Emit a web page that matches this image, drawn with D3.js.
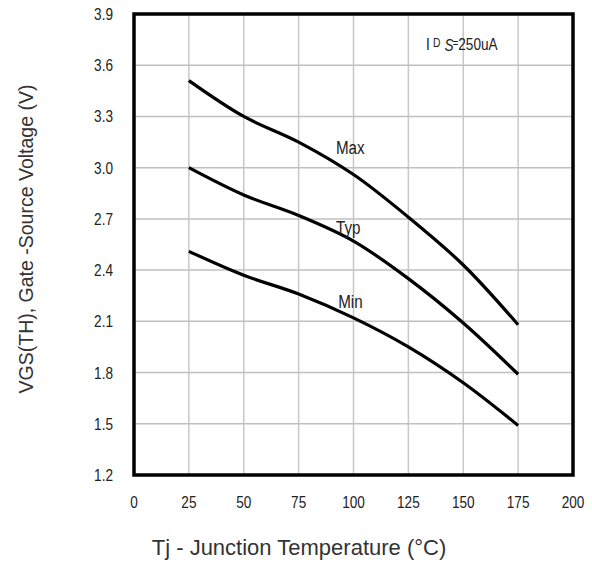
<!DOCTYPE html>
<html>
<head>
<meta charset="utf-8">
<script src="https://cdn.jsdelivr.net/npm/d3@7"></script>
<style>
  body { margin: 0; background: #fff; }
  svg text { fill: #222; }
</style>
</head>
<body>
<div id="chart"></div>
<script>
const temps = [25, 50, 75, 100, 125, 150, 175];
const vMax = [3.51, 3.30, 3.15, 2.96, 2.71, 2.43, 2.08];
const vTyp = [3.00, 2.84, 2.72, 2.57, 2.35, 2.09, 1.79];
const vMin = [2.51, 2.37, 2.26, 2.12, 1.95, 1.74, 1.49];
const xTicks = [0, 25, 50, 75, 100, 125, 150, 175, 200];
const yTicks = [1.2, 1.5, 1.8, 2.1, 2.4, 2.7, 3.0, 3.3, 3.6, 3.9];
const seriesNames = ["Max", "Typ", "Min"];
const labelPos = [[92, 3.08], [92, 2.61], [93, 2.18]];

const W = 592, H = 567;
const margin = { top: 14, left: 134, right: 19, bottom: 92 };
const innerW = W - margin.left - margin.right;
const innerH = H - margin.top - margin.bottom;
const SQUEEZE = 0.8;

const svg = d3.select("#chart").append("svg").attr("width", W).attr("height", H);
const g = svg.append("g").attr("transform", `translate(${margin.left},${margin.top})`);

const x = d3.scaleLinear().domain([0, 200]).range([0, innerW]);
const y = d3.scaleLinear().domain([1.2, 3.9]).range([innerH, 0]);

const font = "'Liberation Sans', Arial, sans-serif";

// narrow-looking text: squeeze horizontally around the anchor point
function squeezed(sel, px, py) {
  return sel.attr("x", 0).attr("y", 0)
    .attr("transform", `translate(${px},${py}) scale(${SQUEEZE},1)`)
    .style("font-family", font);
}

// grid
g.append("g").selectAll("line").data(xTicks.slice(1, -1)).join("line")
  .attr("x1", d => x(d)).attr("x2", d => x(d))
  .attr("y1", 0).attr("y2", innerH)
  .attr("stroke", "#c8c8c8").attr("stroke-width", 1.5);
g.append("g").selectAll("line").data(yTicks.slice(1, -1)).join("line")
  .attr("y1", d => y(d)).attr("y2", d => y(d))
  .attr("x1", 0).attr("x2", innerW)
  .attr("stroke", "#c0c0c0").attr("stroke-width", 1.5);

// tick labels
g.append("g").selectAll("text").data(xTicks).join("text")
  .each(function(d) { squeezed(d3.select(this), x(d), innerH + 33); })
  .attr("text-anchor", "middle")
  .style("font-size", "17px")
  .text(d => d);
g.append("g").selectAll("text").data(yTicks).join("text")
  .each(function(d) { squeezed(d3.select(this), -21, y(d) + 6); })
  .attr("text-anchor", "end")
  .style("font-size", "17px")
  .text(d => d.toFixed(1));

// curves
const line = d3.line()
  .x((d, i) => x(temps[i]))
  .y(d => y(d))
  .curve(d3.curveCatmullRom.alpha(0.5));

g.append("g").selectAll("path").data([vMax, vTyp, vMin]).join("path")
  .attr("d", line)
  .attr("fill", "none")
  .attr("stroke", "#000")
  .attr("stroke-width", 3.2);

g.append("g").selectAll("text").data(seriesNames).join("text")
  .each(function(d, i) { squeezed(d3.select(this), x(labelPos[i][0]), y(labelPos[i][1])); })
  .style("font-size", "19px")
  .text(d => d);

// condition note
const note = g.append("text").style("font-size", "17px");
squeezed(note, x(133), 36);
note.append("tspan").text("I");
note.append("tspan").attr("dx", 4).attr("dy", -3).style("font-size", "13px").text("D");
note.append("tspan").attr("dx", 5).attr("dy", 4).style("font-style", "italic").text("S");
note.append("tspan").attr("dx", -1).attr("dy", -4).style("font-size", "12px").text("=");
note.append("tspan").attr("dx", 0).attr("dy", 3).text("250uA");

// frame
g.append("rect")
  .attr("width", innerW).attr("height", innerH)
  .attr("fill", "none").attr("stroke", "#000").attr("stroke-width", 3.5);

// axis titles
svg.append("text")
  .attr("x", 299).attr("y", 555)
  .attr("text-anchor", "middle")
  .style("font-family", font).style("font-size", "22px")
  .style("fill", "#333")
  .text("Tj - Junction Temperature (°C)");
svg.append("text")
  .attr("transform", "translate(33,239) rotate(-90)")
  .attr("text-anchor", "middle")
  .style("font-family", font).style("font-size", "19.5px")
  .style("fill", "#333")
  .text("VGS(TH), Gate -Source Voltage (V)");
</script>
</body>
</html>
